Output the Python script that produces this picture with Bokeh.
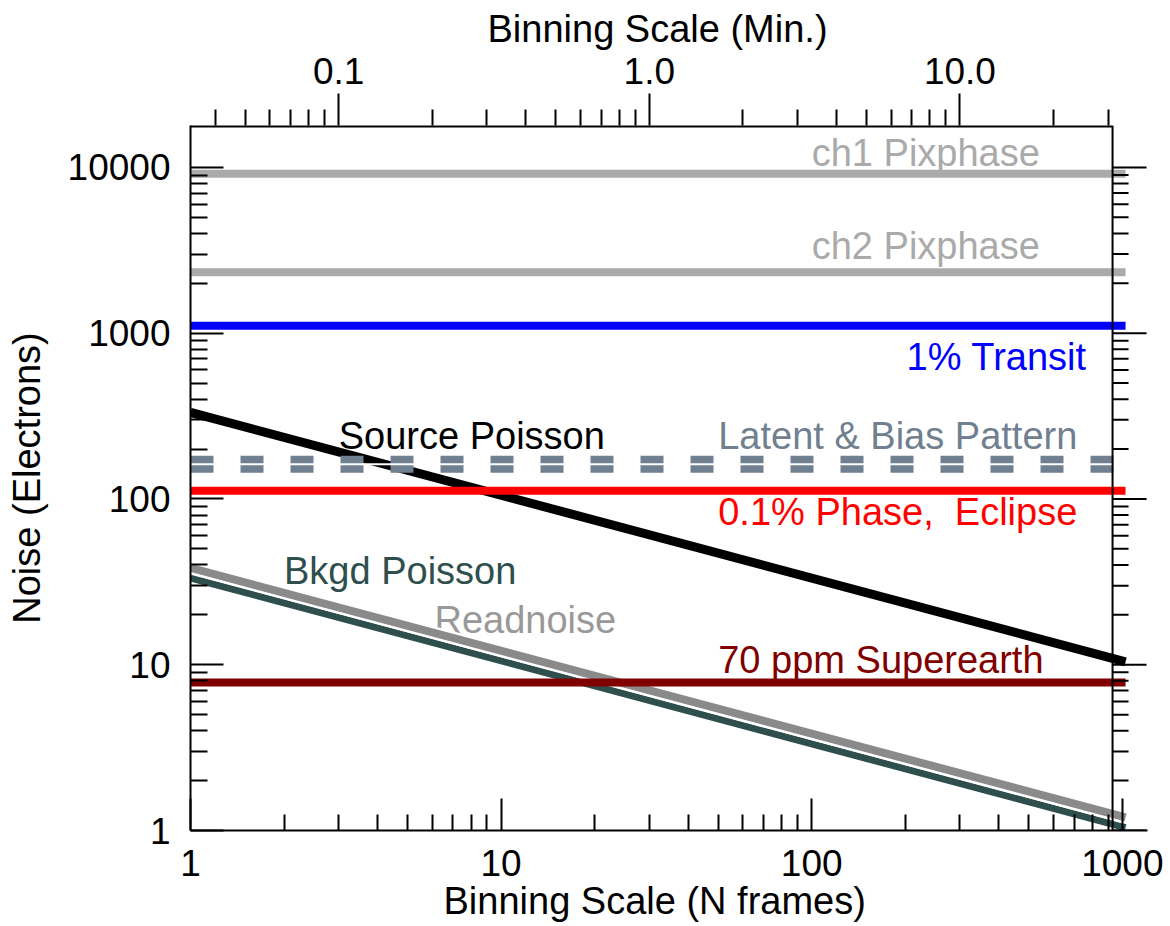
import numpy as np
from bokeh.plotting import figure
from bokeh.models import (LogAxis, Range1d, FixedTicker, PrintfTickFormatter,
                          Span, ColumnDataSource, LogScale, Title)
from bokeh.core.properties import value
from bokeh.embed import file_html
from bokeh.resources import INLINE

# ---------------- data ----------------
frames = [1, 1024]                      # binning scale (N frames), line end points
ch1_pixphase = [9150, 9150]
ch2_pixphase = [2330, 2330]
transit_1pct = [1110, 1110]
source_poisson = [333, 10.4]
latent_bias = [162, 162]
phase_eclipse = [112, 112]
bkgd_poisson = [33.4, 1.04]
readnoise = [38.4, 1.2]
superearth_70ppm = [7.8, 7.8]

frames_per_min = 30
x_end = 1205
y_end = 17900
right_axis_frames = 930

x_ticks = [1, 10, 100, 1000]
y_ticks = [1, 10, 100, 1000, 10000]
min_ticks = [0.1, 1.0, 10.0]
x_minor = [m * d for d in (1, 10, 100) for m in range(2, 10)]
y_minor = [m * d for d in (1, 10, 100, 1000) for m in range(2, 10)]
min_minor = [m * d for d in (0.01, 0.1, 1, 10) for m in range(2, 10)
             if 1 / frames_per_min < m * d < 35]

label_text = ["ch1 Pixphase", "ch2 Pixphase", "1% Transit", "Source Poisson",
              "Latent & Bias Pattern", "0.1% Phase,\u00a0 Eclipse", "70 ppm Superearth",
              "Bkgd Poisson"]
label_x = [100, 100, 202, 3, 50, 50, 50, 2]
label_y = [10250, 2818, 603, 201, 201, 70.1, 8.97, 30.5]
label_color = ["#aaaaaa", "#aaaaaa", "#0000ff", "#000000", "#708090",
               "#ff0000", "#800000", "#2f4f4f"]
rn_label_text = ["Readnoise"]
rn_label_x = [6.1]
rn_label_y = [15.6]
rn_label_color = ["#999999"]

FONT = "Liberation Sans"
TICK_SIZE = "37px"
TEXT_SIZE = "38px"

p = figure(width=1170, height=926, x_axis_type="log", y_axis_type="log",
           x_range=Range1d(1, x_end), y_range=Range1d(1, y_end),
           output_backend="svg", toolbar_location=None,
           min_border_left=190, min_border_right=23,
           min_border_top=125, min_border_bottom=96)
p.outline_line_color = None
p.grid.visible = False


def style_axis(ax, tin, tout, mtin, mtout):
    ax.major_tick_in = tin
    ax.major_tick_out = tout
    ax.minor_tick_in = mtin
    ax.minor_tick_out = mtout
    ax.axis_line_width = 2
    ax.major_tick_line_width = 2
    ax.minor_tick_line_width = 2
    ax.axis_line_color = "black"
    ax.major_tick_line_color = "black"
    ax.minor_tick_line_color = "black"
    ax.major_label_text_font = FONT
    ax.major_label_text_font_size = TICK_SIZE
    ax.major_label_text_color = "black"
    ax.axis_label_text_font = FONT
    ax.axis_label_text_font_size = TEXT_SIZE
    ax.axis_label_text_font_style = "normal"
    ax.axis_label_text_color = "black"


xa = p.xaxis[0]
xa.ticker = FixedTicker(ticks=x_ticks, minor_ticks=x_minor)
xa.formatter = PrintfTickFormatter(format="%d")
style_axis(xa, 32, 0, 16, 0)
xa.major_label_standoff = 19

ya = p.yaxis[0]
ya.ticker = FixedTicker(ticks=y_ticks, minor_ticks=y_minor)
ya.formatter = PrintfTickFormatter(format="%d")
ya.axis_label = "Noise (Electrons)"
style_axis(ya, 33, 0, 17, 0)
ya.major_label_standoff = 20
ya.axis_label_standoff = 17

p.extra_x_ranges = {"minutes": Range1d(1 / frames_per_min, x_end / frames_per_min)}
p.extra_x_scales = {"minutes": LogScale()}
ta = LogAxis(x_range_name="minutes",
             ticker=FixedTicker(ticks=min_ticks, minor_ticks=min_minor),
             formatter=PrintfTickFormatter(format="%.1f"))
style_axis(ta, 0, 32, 0, 16)
ta.axis_line_color = None
ta.major_label_standoff = 10
p.add_layout(ta, "above")

# axis titles as titles so they can be shifted like the original
title_kw = dict(align="left", text_font=FONT, text_font_size=TEXT_SIZE,
                text_font_style="normal", text_color="black")
p.add_layout(Title(text="Binning Scale (N frames)", offset=253, standoff=-2, **title_kw),
             "below")
p.add_layout(Title(text="Binning Scale (Min.)", offset=297, standoff=10, **title_kw),
             "above")

# ---------------- lines ----------------
p.line(frames, ch1_pixphase, line_color="#aaaaaa", line_width=8)
p.line(frames, ch2_pixphase, line_color="#aaaaaa", line_width=8)
p.line(frames, transit_1pct, line_color="#0000ff", line_width=8)
p.line(frames, source_poisson, line_color="black", line_width=9)
p.line(frames, latent_bias, line_color="#708090", line_width=17, line_dash="23 27")
p.line(frames, latent_bias, line_color="white", line_width=2)
p.line(frames, phase_eclipse, line_color="#ff0000", line_width=8)

src = ColumnDataSource(dict(x=label_x, y=label_y, text=label_text, color=label_color))
rn_src = ColumnDataSource(dict(x=rn_label_x, y=rn_label_y, text=rn_label_text,
                               color=rn_label_color))
text_kw = dict(text_font=value(FONT), text_font_size=TEXT_SIZE,
               text_baseline="middle", text_align="left", y_offset=-13)
p.text(x="x", y="y", text="text", text_color="color", source=rn_src, **text_kw)

p.line(frames, bkgd_poisson, line_color="#2f4f4f", line_width=7)
p.line(frames, readnoise, line_color="white", line_width=13)
p.line(frames, readnoise, line_color="#8a8a8a", line_width=8)
p.line(frames, superearth_70ppm, line_color="#800000", line_width=8)

p.text(x="x", y="y", text="text", text_color="color", source=src, **text_kw)

# ---------------- right axis & top frame line ----------------
p.add_layout(Span(location=right_axis_frames, dimension="height",
                  line_color="black", line_width=2))
p.ray(x=[right_axis_frames] * len(y_ticks), y=y_ticks, length=34,
      length_units="screen", angle=0, line_color="black", line_width=2)
p.ray(x=[right_axis_frames] * len(y_minor), y=y_minor, length=16,
      length_units="screen", angle=0, line_color="black", line_width=2)
p.ray(x=[right_axis_frames], y=[y_end], length=0, angle=np.pi,
      line_color="black", line_width=4)

open("out.html", "w").write(file_html(p, INLINE))
